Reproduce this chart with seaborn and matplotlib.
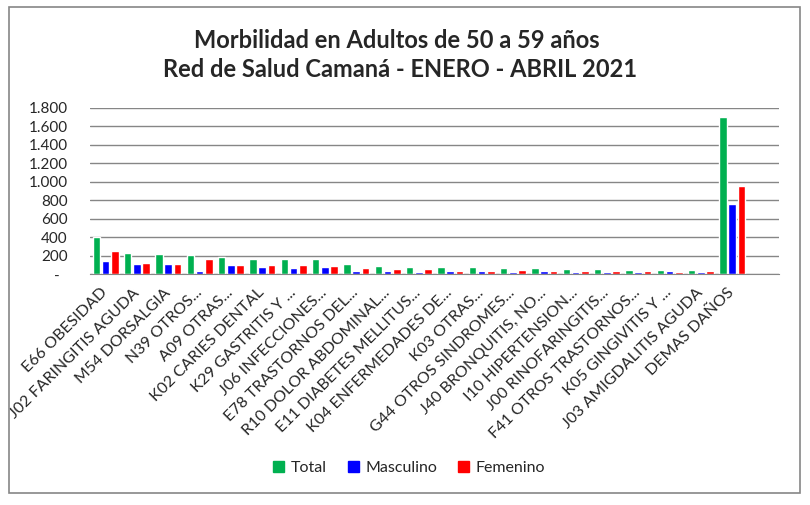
import matplotlib
matplotlib.use("Agg")
import matplotlib.pyplot as plt
import seaborn as sns
import pandas as pd
from matplotlib.ticker import FuncFormatter
from matplotlib.patches import Rectangle, Patch

# Morbilidad 50-59 anios, Red de Salud Camana, enero-abril 2021
categorias = [
    "E66 OBESIDAD", "J02 FARINGITIS AGUDA", "M54 DORSALGIA", "N39 OTROS...",
    "A09 OTRAS...", "K02 CARIES DENTAL", "K29 GASTRITIS Y ...", "J06 INFECCIONES...",
    "E78 TRASTORNOS DEL...", "R10 DOLOR ABDOMINAL...", "E11 DIABETES MELLITUS...",
    "K04 ENFERMEDADES DE...", "K03 OTRAS...", "G44 OTROS SINDROMES...",
    "J40 BRONQUITIS, NO...", "I10 HIPERTENSION...", "J00 RINOFARINGITIS...",
    "F41 OTROS TRASTORNOS...", "K05 GINGIVITIS Y ...", "J03 AMIGDALITIS AGUDA",
    "DEMAS DAÑOS",
]
total = [399, 228, 217, 203, 185, 163, 163, 163, 109, 87, 76,
         76, 76, 65, 65, 55, 55, 44, 44, 44, 1707]
masculino = [141, 109, 109, 33, 98, 76, 65, 76, 33, 33, 22,
             33, 33, 22, 33, 22, 22, 22, 33, 22, 761]
femenino = [250, 120, 109, 163, 98, 98, 98, 87, 65, 55, 55,
            33, 33, 44, 33, 33, 33, 33, 22, 33, 957]
series = ["Total", "Masculino", "Femenino"]
colores = ["#00B050", "#0000FF", "#FF0000"]

df = pd.DataFrame({
    "diagnostico": categorias * 3,
    "serie": ["Total"] * len(categorias) + ["Masculino"] * len(categorias) + ["Femenino"] * len(categorias),
    "casos": total + masculino + femenino,
})

sns.set_style("white")
plt.rcParams["font.family"] = ["Lato", "DejaVu Sans"]

fig = plt.figure(figsize=(8.1, 5.05), dpi=100)
ax = fig.add_axes([0.111, 0.4574, 0.851, 0.3288])

sns.barplot(data=df, x="diagnostico", y="casos", hue="serie", hue_order=series,
            palette=colores, width=0.88, gap=0.18, saturation=1, ax=ax, legend=False)

ax.set_xlim(-0.5, 21.5)
ax.set_ylim(0, 1800)
ax.set_yticks(range(0, 1801, 200))
ax.yaxis.set_major_formatter(FuncFormatter(
    lambda v, p: "-  " if v == 0 else f"{int(v):,}".replace(",", ".")))
ax.grid(axis="y", color="#868686", linewidth=1)
ax.set_axisbelow(True)
for s in ["left", "right", "top"]:
    ax.spines[s].set_visible(False)
ax.spines["bottom"].set_color("#868686")
ax.tick_params(axis="y", length=0, pad=16, labelsize=11)
ax.tick_params(axis="x", length=0, pad=12, labelsize=11.5)
ax.set_xlabel("")
ax.set_ylabel("")
for lbl in ax.get_xticklabels():
    lbl.set_rotation(45)
    lbl.set_ha("right")
    lbl.set_va("center")
    lbl.set_rotation_mode("anchor")

fig.text(0.49, 0.92, "Morbilidad en Adultos de 50 a 59 años", ha="center", va="center",
         fontsize=17, fontweight="bold")
fig.text(0.494, 0.862, "Red de Salud Camaná - ENERO - ABRIL 2021", ha="center", va="center",
         fontsize=17, fontweight="bold")

handles = [Patch(color=c, label=s) for c, s in zip(colores, series)]
fig.legend(handles=handles, loc="center", bbox_to_anchor=(0.505, 0.073), ncol=3,
           frameon=False, fontsize=11.5, handlelength=0.7, handleheight=0.7,
           handletextpad=0.4, columnspacing=1.3)

fig.patches.append(Rectangle((9 / 810, 12 / 505), 791 / 810, 486 / 505, transform=fig.transFigure,
                             fill=False, edgecolor="#868686", linewidth=1.2))

fig.savefig("out.png", dpi=100)
